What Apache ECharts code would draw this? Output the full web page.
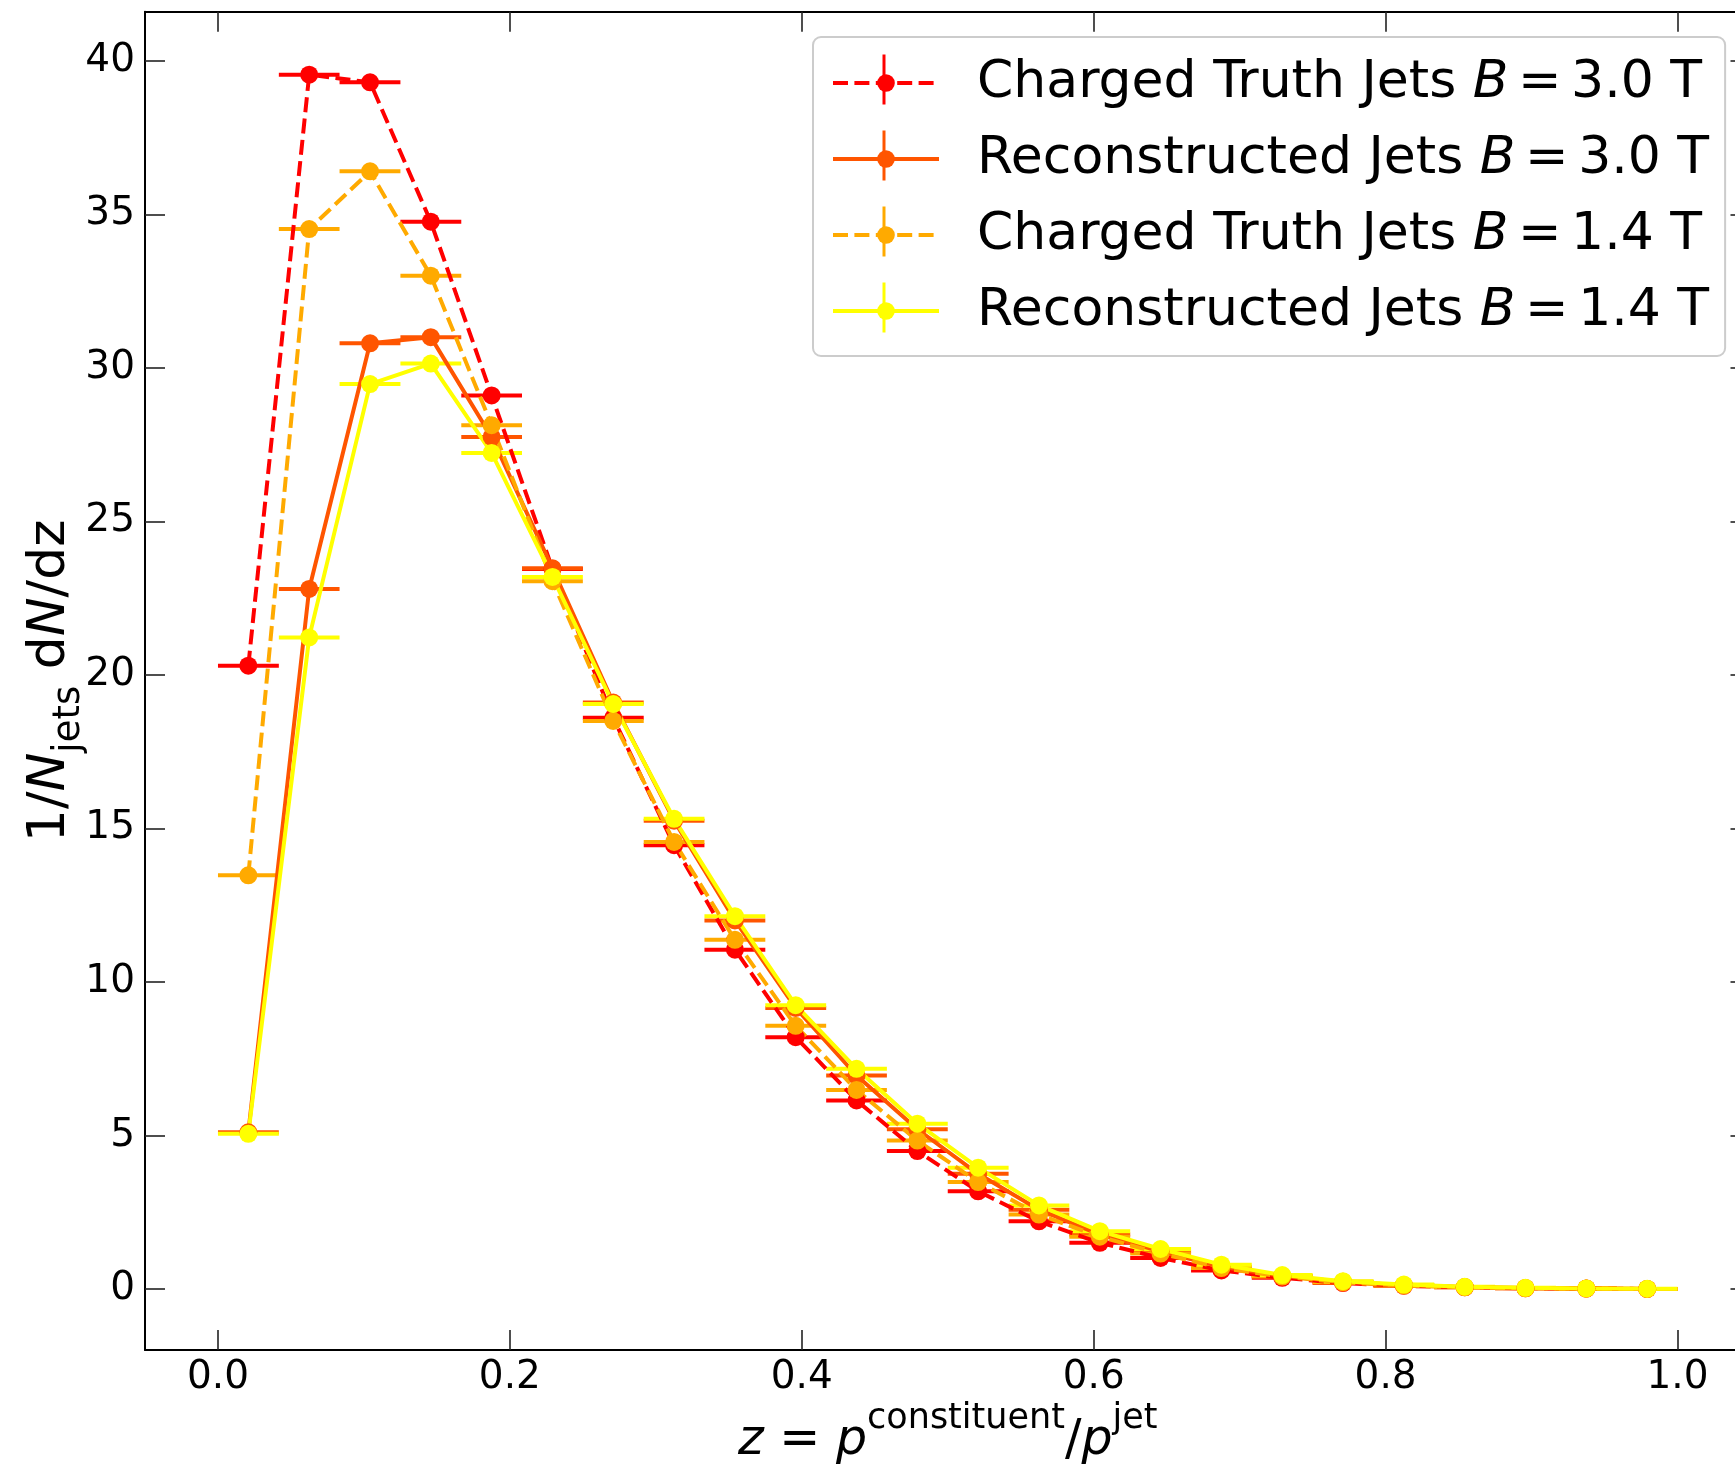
<!DOCTYPE html>
<html><head><meta charset="utf-8">
<script src="https://cdn.jsdelivr.net/npm/echarts@6/dist/echarts.min.js"></script>
<style>html,body{margin:0;padding:0;background:#fff}#c{width:1735px;height:1464px}</style>
</head><body><div id="c"></div><script>
// ---- data ----
const zCenters = [0.0208, 0.0625, 0.1042, 0.1458, 0.1875, 0.2292, 0.2708, 0.3125, 0.3542, 0.3958, 0.4375, 0.4792,
                  0.5208, 0.5625, 0.6042, 0.6458, 0.6875, 0.7292, 0.7708, 0.8125, 0.8542, 0.8958, 0.9375, 0.9792];
const zLow  = [0.0000, 0.0417, 0.0833, 0.1250, 0.1667, 0.2083, 0.2500, 0.2917, 0.3333, 0.3750, 0.4167, 0.4583,
               0.5000, 0.5417, 0.5833, 0.6250, 0.6667, 0.7083, 0.7500, 0.7917, 0.8333, 0.8750, 0.9167, 0.9583];
const zHigh = [0.0417, 0.0833, 0.1250, 0.1667, 0.2083, 0.2500, 0.2917, 0.3333, 0.3750, 0.4167, 0.4583, 0.5000,
               0.5417, 0.5833, 0.6250, 0.6667, 0.7083, 0.7500, 0.7917, 0.8333, 0.8750, 0.9167, 0.9583, 1.0000];
const truth30 = [20.3, 39.55, 39.3, 34.76, 29.1, 23.45, 18.6, 14.45, 11.05, 8.2, 6.14, 4.49,
                 3.18, 2.2, 1.5, 1.01, 0.6, 0.36, 0.19, 0.1, 0.05, 0.02, 0.01, 0.0];
const reco30  = [5.1, 22.8, 30.8, 31.0, 27.75, 23.47, 19.1, 15.25, 12.0, 9.15, 6.95, 5.2,
                 3.75, 2.58, 1.77, 1.22, 0.72, 0.42, 0.23, 0.12, 0.06, 0.03, 0.01, 0.0];
const truth14 = [13.47, 34.52, 36.4, 33.0, 28.13, 23.05, 18.5, 14.56, 11.37, 8.57, 6.48, 4.83,
                 3.48, 2.42, 1.7, 1.15, 0.68, 0.4, 0.21, 0.11, 0.05, 0.02, 0.01, 0.0];
const reco14  = [5.05, 21.22, 29.47, 30.14, 27.23, 23.19, 19.05, 15.31, 12.14, 9.24, 7.17, 5.38,
                 3.95, 2.72, 1.88, 1.3, 0.79, 0.45, 0.25, 0.14, 0.07, 0.035, 0.015, 0.005];
const seriesNames = ['Charged Truth Jets B = 3.0 T', 'Reconstructed Jets B = 3.0 T',
                     'Charged Truth Jets B = 1.4 T', 'Reconstructed Jets B = 1.4 T'];
const xTicks = [0.0, 0.2, 0.4, 0.6, 0.8, 1.0];
const yTicks = [0, 5, 10, 15, 20, 25, 30, 35, 40];

// ---- style ----
const FONT = 'DejaVu Sans';
const colors = ['#ff0000', '#ff5500', '#ffaa00', '#ffff00'];
const dashed = [true, false, true, false];
const allVals = [truth30, reco30, truth14, reco14];
const LW = 4;
const DASH = [15, 6.4];

const series = [];
allVals.forEach((vals, k) => {
  const col = colors[k];
  series.push({
    type: 'custom', name: seriesNames[k] + ' err', silent: true,
    renderItem: function (params, api) {
      const y = api.value(1);
      const p1 = api.coord([api.value(2), y]);
      const p2 = api.coord([api.value(3), y]);
      return {type: 'line', shape: {x1: p1[0], y1: p1[1], x2: p2[0], y2: p2[1]},
              style: {stroke: col, lineWidth: LW}};
    },
    encode: {x: [0, 2, 3], y: 1},
    data: zCenters.map((z, i) => [z, vals[i], zLow[i], zHigh[i]]),
    z: 2
  });
  series.push({
    type: 'line', name: seriesNames[k],
    data: zCenters.map((z, i) => [z, vals[i]]),
    symbol: 'circle', symbolSize: 18, showSymbol: true,
    itemStyle: {color: col},
    lineStyle: {color: col, width: LW, type: dashed[k] ? DASH : 'solid'},
    emphasis: {disabled: true},
    z: 2
  });
});

const axisCommonX = {
  type: 'value', min: -0.05, max: 1.05, splitLine: {show: false},
  axisLine: {show: true, onZero: false, lineStyle: {color: '#000', width: 2}},
  axisTick: {show: true, inside: true, length: 20, customValues: xTicks, lineStyle: {color: '#222', width: 1.6}}
};
const axisCommonY = {
  type: 'value', min: -1.99, max: 41.6, splitLine: {show: false},
  axisLine: {show: true, onZero: false, lineStyle: {color: '#000', width: 2}},
  axisTick: {show: true, inside: true, length: 20, customValues: yTicks, lineStyle: {color: '#222', width: 1.6}}
};

const legendCenters = [79.5, 155.5, 231.5, 307.5];
const graphicEls = legendCenters.map((cy, k) => ({
  type: 'line', z: 10, shape: {x1: 884, y1: cy - 25, x2: 884, y2: cy + 25},
  style: {stroke: colors[k], lineWidth: 3}
}));

const chart = echarts.init(document.getElementById('c'), null, {renderer: 'canvas'});
chart.setOption({
  animation: false,
  backgroundColor: '#ffffff',
  grid: {left: 145, top: 11.7, width: 1605.5, height: 1338.3, containLabel: false, outerBoundsMode: 'none'},
  xAxis: [
    Object.assign({}, axisCommonX, {
      position: 'bottom',
      axisLabel: {show: true, customValues: xTicks, formatter: v => v.toFixed(1), fontSize: 39, fontFamily: FONT, color: '#000', margin: 8},
      name: '{i|z}{m| = }{i|p}{s|constituent}{m|/}{i|p}{s|jet}',
      nameLocation: 'middle', nameGap: 43,
      nameTextStyle: {
        fontFamily: FONT, color: '#000',
        rich: {
          i: {fontFamily: FONT, fontStyle: 'italic', fontSize: 49, lineHeight: 49, padding: [15, 0, 0, 0], verticalAlign: 'top', color: '#000'},
          m: {fontFamily: FONT, fontSize: 49, lineHeight: 49, padding: [15, 0, 0, 0], verticalAlign: 'top', color: '#000'},
          s: {fontFamily: FONT, fontSize: 35, lineHeight: 35, verticalAlign: 'top', color: '#000'}
        }
      }
    }),
    Object.assign({}, axisCommonX, {position: 'top', axisLabel: {show: false}})
  ],
  yAxis: [
    Object.assign({}, axisCommonY, {
      position: 'left',
      axisLabel: {show: true, customValues: yTicks, fontSize: 39, fontFamily: FONT, color: '#000', margin: 10},
      name: '{m|1/}{i|N}{s|jets}{m| d}{i|N}{m|/dz}',
      nameLocation: 'middle', nameGap: 69, nameRotate: 90, nameMoveOverlap: false,
      nameTextStyle: {
        fontFamily: FONT, color: '#000',
        rich: {
          i: {fontFamily: FONT, fontStyle: 'italic', fontSize: 52, lineHeight: 52, verticalAlign: 'top', color: '#000'},
          m: {fontFamily: FONT, fontSize: 52, lineHeight: 52, verticalAlign: 'top', color: '#000'},
          s: {fontFamily: FONT, fontSize: 37, lineHeight: 37, padding: [27, 0, 0, 0], verticalAlign: 'top', color: '#000'}
        }
      }
    }),
    Object.assign({}, axisCommonY, {position: 'right', axisLabel: {show: false}})
  ],
  legend: {
    orient: 'vertical', left: 813, top: 37,
    padding: [18, 16, 17, 18],
    itemWidth: 106, itemHeight: 22, itemGap: 20,
    backgroundColor: 'rgba(255,255,255,0.8)', borderColor: '#cccccc', borderWidth: 2, borderRadius: 8,
    data: seriesNames,
    selectedMode: false,
    lineStyle: {width: LW},
    formatter: n => n.replace('B = ', '{i|B}{sp| }{m|=}{sp| }'),
    textStyle: {
      fontSize: 52, fontFamily: FONT, color: '#000', lineHeight: 56, padding: [0, 0, 0, 33],
      rich: {
        i: {fontSize: 52, fontFamily: FONT, fontStyle: 'italic', lineHeight: 56, color: '#000'},
        m: {fontSize: 52, fontFamily: FONT, lineHeight: 56, color: '#000'},
        sp: {fontSize: 30, fontFamily: FONT, lineHeight: 56, color: '#000'}
      }
    }
  },
  graphic: graphicEls,
  series: series
});
</script></body></html>
